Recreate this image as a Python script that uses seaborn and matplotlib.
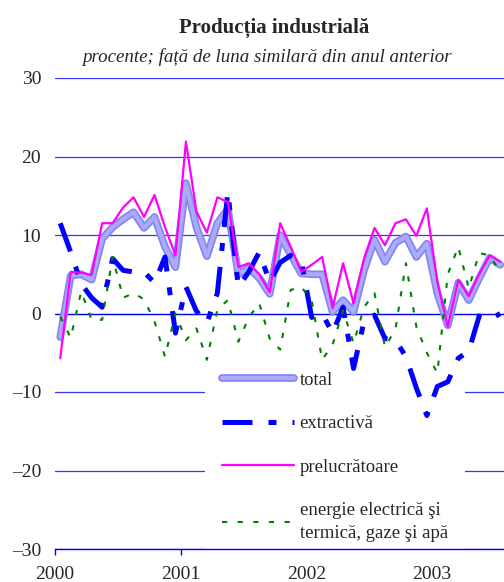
"""Producția industrială - annual % change by branch, 2000-2003."""

import numpy as np
import pandas as pd
import matplotlib
matplotlib.use("Agg")
import matplotlib.pyplot as plt
import matplotlib.patheffects as pe
import seaborn as sns

# monthly observations, Jan 2000 .. Jul 2003
start_year = 2000
n_months = 43

total = [-3.0, 4.8, 5.0, 4.3, 9.5, 11.0, 12.0, 12.9, 10.9, 12.3, 8.5, 5.9,
         16.6, 11.0, 7.3, 11.5, 13.3, 5.0, 5.8, 4.5, 2.5, 10.0, 7.5, 5.1,
         5.0, 5.0, 0.2, 1.7, 0.2, 5.5, 9.4, 6.6, 9.0, 9.8, 7.2, 8.9,
         2.6, -1.5, 3.9, 1.7, 4.5, 7.1, 6.2]
extractiva = [11.5, 7.8, 3.8, 2.0, 0.8, 7.0, 5.5, 5.3, 5.3, 3.9, 7.2, -2.5,
              3.4, 0.3, -1.2, 2.6, 15.5, 3.4, 5.3, 7.8, 4.0, 6.5, 7.4, 6.8,
              -0.5, 0.0, -2.5, 0.8, -7.0, -1.0, -0.2, -3.2, -3.4, -5.5, -9.5, -13.0,
              -9.3, -8.7, -5.7, -4.8, -0.3, -0.8, 0.0]
prelucratoare = [-5.7, 5.3, 5.2, 4.9, 11.5, 11.5, 13.5, 14.8, 12.3, 15.1, 11.0, 7.4,
                 21.9, 13.0, 10.3, 14.8, 14.2, 5.9, 6.4, 5.0, 2.7, 11.5, 8.5, 5.3,
                 6.2, 7.2, 0.7, 6.4, 1.3, 7.0, 10.9, 8.7, 11.5, 12.0, 9.9, 13.4,
                 4.0, -1.7, 4.3, 2.2, 5.0, 7.4, 6.6]
energie = [-0.4, -3.1, 2.8, -0.8, -0.8, 7.2, 2.0, 2.6, 1.8, -1.0, -5.5, 0.0,
           -3.4, -1.9, -5.9, 0.5, 1.7, -3.6, -0.5, 1.3, -3.2, -4.6, 3.0, 3.4,
           1.7, -5.9, -4.0, 0.4, -3.8, 0.8, 2.6, -4.3, -2.0, 6.4, -1.7, -5.0,
           -7.6, 5.0, 8.5, 3.2, 7.7, 7.4, 5.3]

labels = ["total", "extractivă", "prelucrătoare",
          "energie electrică şi\ntermică, gaze şi apă"]
year_ticks = [2000, 2001, 2002, 2003]
y_ticks = [-30, -20, -10, 0, 10, 20, 30]
y_ticklabels = ["–30", "–20", "–10", "0", "10", "20", "30"]

# mid-month positions on a fractional-year axis
months = start_year + (np.arange(n_months) + 0.5) / 12
df = pd.DataFrame({"t": months, "total": total, "extractiva": extractiva,
                   "prelucratoare": prelucratoare, "energie": energie})

sns.set_style("white")
plt.rcParams["font.family"] = ["Liberation Serif", "DejaVu Serif"]

GRID = "#3434ff"

fig = plt.figure(figsize=(5.04, 5.82), dpi=100)
ax = fig.add_axes([55 / 504, 33 / 582, 449 / 504, 471 / 582])

sns.lineplot(data=df, x="t", y="total", ax=ax, color="#aaaaff", linewidth=3.0,
             label=labels[0], zorder=3,
             path_effects=[pe.Stroke(linewidth=5.5, foreground="#8585ee"), pe.Normal()])
sns.lineplot(data=df, x="t", y="extractiva", ax=ax, color="#0000ff", linewidth=3.6,
             linestyle=(0, (6, 3.2, 1.6, 3.2)), label=labels[1], zorder=4)
sns.lineplot(data=df, x="t", y="prelucratoare", ax=ax, color="#ff00ff", linewidth=1.6,
             label=labels[2], zorder=5)
sns.lineplot(data=df, x="t", y="energie", ax=ax, color="#008000", linewidth=1.5,
             linestyle=(0, (2.5, 5)), label=labels[3], zorder=6)

ax.set_xlim(2000, 2000 + 449 / 125.7)
ax.set_ylim(-30, 30)
ax.set_xticks(year_ticks)
ax.set_xticklabels([str(y) for y in year_ticks])
ax.set_yticks(y_ticks)
ax.set_yticklabels(y_ticklabels)
ax.set_xlabel("")
ax.set_ylabel("")

ax.grid(axis="y", color=GRID, linewidth=0.9)
ax.grid(axis="x", visible=False)
ax.set_axisbelow(True)
ax.axhline(0, color="#0000ff", linewidth=0.9, zorder=1.5)

for side in ["left", "right", "top"]:
    ax.spines[side].set_visible(False)
ax.spines["bottom"].set_color("#0000ff")
ax.spines["bottom"].set_linewidth(1.0)
ax.spines["bottom"].set_zorder(7)

ax.tick_params(axis="y", length=0, pad=10, labelsize=14)
ax.tick_params(axis="x", direction="out", length=4.5, width=1.0, color="#0000ff",
               pad=8, labelsize=14, bottom=True)

leg = ax.legend(loc="upper left", bbox_to_anchor=((205 - 55) / 449, (549 - 355) / 471),
                borderaxespad=0, borderpad=0.9, frameon=True, facecolor="white",
                edgecolor="none", fancybox=False, fontsize=13.5, handlelength=3.85,
                handletextpad=0.3, labelspacing=1.4)
leg.set_zorder(2)
leg.get_frame().set_alpha(1)
leg.get_texts()[3].set_linespacing(1.45)

fig.text(274 / 504, 1 - 33 / 582, "Producția industrială", ha="center", va="baseline",
         fontsize=15, fontweight="bold")
fig.text(267 / 504, 1 - 62 / 582, "procente; față de luna similară din anul anterior",
         ha="center", va="baseline", fontsize=13.7, fontstyle="italic")

fig.savefig("out.png", dpi=100)
